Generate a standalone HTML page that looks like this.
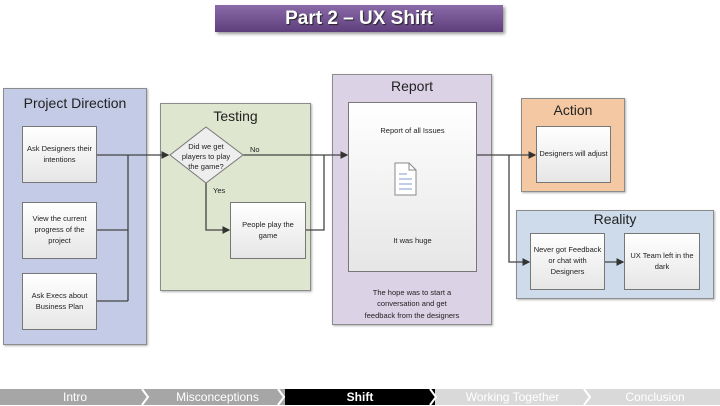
<!DOCTYPE html>
<html><head><meta charset="utf-8"><style>
body{margin:0;width:720px;height:405px;background:#fff;position:relative;overflow:hidden;font-family:"Liberation Sans",sans-serif}
.a{position:absolute;box-sizing:border-box}
.grp{border:1px solid #8c8c8c;box-shadow:1px 1px 2px rgba(0,0,0,.3)}
.gt{position:absolute;left:0;right:0;text-align:center;color:#222}
.bx{position:absolute;box-sizing:border-box;border:1px solid #777;background:linear-gradient(#fff,#e6e6e6);font-size:7.5px;color:#222;display:flex;align-items:center;justify-content:center;text-align:center;line-height:1.45;padding:2px}
.seg{position:absolute;top:389px;height:16px;font-size:12px;line-height:17px;text-align:center;color:#fff}
</style></head><body>
<div class="a" style="left:215px;top:5px;width:288px;height:27px;background:linear-gradient(#8a6aa8,#5e3f7c);box-shadow:2px 2px 3px rgba(0,0,0,.4);color:#fff;font-weight:bold;font-size:19px;text-align:center;line-height:27px;text-shadow:1px 1px 1px #222">Part 2 – UX Shift</div>

<div class="a grp" style="left:3px;top:88px;width:144px;height:257px;background:#c3cbe6"><div class="gt" style="top:6px;font-size:14px">Project Direction</div></div>
<div class="a grp" style="left:160px;top:103px;width:151px;height:188px;background:#dfe6cf"><div class="gt" style="top:4px;font-size:14px">Testing</div></div>
<div class="a grp" style="left:332px;top:74px;width:160px;height:251px;background:#dbd2e5"><div class="gt" style="top:3px;font-size:14px">Report</div>
<div class="gt" style="top:212px;font-size:7.5px;line-height:1.5;color:#222">The hope was to start a<br>conversation and get<br>feedback from the designers</div></div>
<div class="a grp" style="left:521px;top:98px;width:104px;height:94px;background:#f4c8a3"><div class="gt" style="top:3px;font-size:14px">Action</div></div>
<div class="a grp" style="left:516px;top:210px;width:198px;height:89px;background:#cddbeb"><div class="gt" style="top:0px;font-size:14px">Reality</div></div>

<div class="bx" style="left:22px;top:126px;width:75px;height:57px">Ask Designers their intentions</div>
<div class="bx" style="left:22px;top:202px;width:75px;height:57px">View the current progress of the project</div>
<div class="bx" style="left:22px;top:273px;width:75px;height:57px">Ask Execs about Business Plan</div>
<div class="bx" style="left:230px;top:202px;width:76px;height:57px">People play the game</div>
<div class="bx" style="left:348px;top:102px;width:129px;height:170px;display:block;padding:0">
<div style="position:absolute;top:23px;left:0;right:0">Report of all Issues</div>
<div style="position:absolute;top:133px;left:0;right:0">It was huge</div></div>
<div class="bx" style="left:536px;top:126px;width:75px;height:57px">Designers will adjust</div>
<div class="bx" style="left:530px;top:233px;width:75px;height:57px">Never got Feedback or chat with Designers</div>
<div class="bx" style="left:624px;top:233px;width:76px;height:57px">UX Team left in the dark</div>

<svg class="a" style="left:0;top:0" width="720" height="405">
<defs><marker id="m" markerWidth="6" markerHeight="6" refX="5" refY="3" orient="auto"><path d="M0,0L6,3L0,6z" fill="#333"/></marker></defs>
<g stroke="#444" stroke-width="1.3" fill="none">
<path d="M97,155H128M97,230H128M97,301H128M128,155V301M128,155H168" marker-end="url(#m)"/>
<path d="M243,155H347" marker-end="url(#m)"/>
<path d="M306,230H324V155"/>
<path d="M206,183V230H229" marker-end="url(#m)"/>
<path d="M477,155H535" marker-end="url(#m)"/>
<path d="M509,155V262H529" marker-end="url(#m)"/>
<path d="M605,262H623" marker-end="url(#m)"/>
</g>
<polygon points="206,127 243,155 206,183 170,155" fill="#eee" stroke="#777"/>
<text x="206" y="149" font-size="7.5" text-anchor="middle" fill="#222">Did we get</text>
<text x="206" y="159" font-size="7.5" text-anchor="middle" fill="#222">players to play</text>
<text x="206" y="169" font-size="7.5" text-anchor="middle" fill="#222">the game?</text>
<text x="250" y="152" font-size="7.5" fill="#222">No</text>
<text x="213" y="193" font-size="7.5" fill="#222">Yes</text>
<path d="M395,163h14l7,7v25h-21z" fill="#fff" stroke="#888"/>
<path d="M409,163v7h7" fill="none" stroke="#888"/>
<g stroke="#7b9bd6"><path d="M399,174h8M399,179h13M399,184h13M399,189h13"/></g>
</svg>

<div class="seg" style="left:0;width:150px;background:#a6a6a6">Intro</div>
<div class="seg" style="left:150px;width:135px;background:#a6a6a6">Misconceptions</div>
<div class="seg" style="left:285px;width:150px;background:#000;font-weight:bold">Shift</div>
<div class="seg" style="left:435px;width:155px;background:#d9d9d9">Working Together</div>
<div class="seg" style="left:590px;width:130px;background:#d9d9d9">Conclusion</div>
<svg class="a" style="left:0;top:389px" width="720" height="16"><g stroke="#fff" stroke-width="2" fill="none">
<path d="M142,0l6,8l-6,8M278,0l6,8l-6,8M430,0l6,8l-6,8M584,0l6,8l-6,8"/></g></svg>
</body></html>
